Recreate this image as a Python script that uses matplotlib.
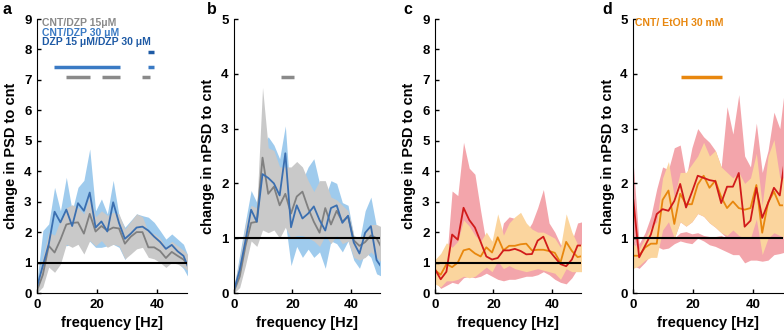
import numpy as np
import matplotlib
matplotlib.use("Agg")
import matplotlib.pyplot as plt

plt.rcParams['font.family'] = ['Liberation Sans', 'DejaVu Sans']
plt.rcParams['font.weight'] = 'bold'

# ------------------- data -------------------
freq = [0, 1.95, 3.91, 5.86, 7.81, 9.77, 11.72, 13.67, 15.63, 17.58, 19.53, 21.48, 23.44,
        25.39, 27.34, 29.3, 31.25, 33.2, 35.16, 37.11, 39.06, 41.02, 42.97, 44.92, 46.88,
        48.83, 50.78]

# panel a: change in PSD (DZP)
a_gray = [0.08, 0.6, 1.55, 1.33, 1.75, 2.25, 2.3, 2.32, 1.95, 2.6, 2.02, 2.2, 2.05, 2.15,
          2.12, 1.62, 1.85, 2.0, 2.0, 1.5, 1.5, 1.38, 1.15, 1.35, 1.22, 1.1, 0.85]
a_gray_lo = [0.0, 0.2, 0.85, 0.68, 0.95, 1.6, 1.5, 1.6, 1.28, 1.72, 1.55, 1.72, 1.5, 1.6,
             1.55, 1.12, 1.28, 1.45, 1.5, 1.17, 1.12, 1.0, 0.84, 1.0, 0.95, 0.84, 0.7]
a_gray_hi = [0.3, 1.2, 2.0, 1.9, 2.4, 2.8, 2.9, 2.8, 2.6, 3.2, 2.5, 2.7, 2.55, 2.65,
             2.6, 2.1, 2.35, 2.6, 2.5, 2.0, 1.95, 1.8, 1.5, 1.7, 1.55, 1.4, 1.2]
a_blue = [0.2, 0.9, 1.6, 2.67, 2.32, 2.74, 2.2, 2.95, 2.7, 3.3, 2.15, 2.35, 2.02, 2.98,
          2.3, 1.78, 1.95, 2.15, 2.18, 2.05, 1.85, 1.68, 1.45, 1.58, 1.37, 1.22, 0.75]
a_blue_lo = [0.0, 0.7, 1.2, 1.8, 1.7, 1.55, 1.6, 1.7, 1.65, 1.7, 1.5, 1.5, 1.55, 1.6,
             1.5, 1.1, 1.4, 1.6, 1.7, 1.6, 1.45, 1.3, 1.1, 1.15, 1.0, 0.8, 0.45]
a_blue_hi = [0.4, 2.05, 2.27, 3.47, 2.7, 3.8, 2.7, 3.47, 3.7, 4.73, 2.7, 3.09, 2.6, 3.7,
             2.54, 2.16, 2.38, 2.6, 2.54, 2.49, 2.32, 2.05, 1.77, 1.94, 1.77, 1.6, 1.1]

# panel b: change in nPSD (DZP)
b_gray = [0.03, 0.3, 0.85, 1.28, 1.3, 2.47, 1.81, 1.94, 1.6, 1.81, 1.45, 1.76, 1.85, 1.55,
          1.3, 1.1, 1.55, 1.25, 1.5, 1.3, 1.4, 0.96, 0.86, 0.93, 1.05, 1.0, 0.8]
b_gray_lo = [0.0, 0.1, 0.5, 0.95, 0.85, 1.15, 1.1, 1.15, 1.0, 1.2, 1.0, 1.05, 1.05, 1.0,
             0.95, 0.85, 1.05, 0.9, 1.05, 0.9, 0.95, 0.65, 0.6, 0.65, 0.75, 0.65, 0.55]
b_gray_hi = [0.15, 0.6, 1.25, 1.6, 1.55, 3.75, 2.65, 2.6, 2.3, 2.3, 2.3, 2.4, 2.3, 2.05,
             1.85, 2.05, 2.05, 1.75, 1.7, 1.6, 1.5, 1.05, 1.0, 1.1, 1.25, 1.25, 1.2]
b_blue = [0.05, 0.42, 0.95, 1.52, 1.3, 2.17, 2.1, 2.0, 1.78, 2.55, 1.2, 1.6, 1.36, 1.45,
          1.58, 1.33, 1.14, 1.55, 1.6, 1.28, 1.41, 0.92, 0.72, 1.1, 1.22, 0.6, 0.45]
b_blue_lo = [0.0, 0.18, 0.6, 1.15, 0.95, 1.2, 1.35, 1.2, 1.15, 1.3, 0.5, 0.85, 0.65, 0.8,
             0.65, 0.75, 0.45, 0.95, 0.9, 0.75, 0.95, 0.6, 0.45, 0.75, 0.65, 0.35, 0.3]
b_blue_hi = [0.1, 0.7, 1.3, 1.87, 1.65, 2.7, 2.85, 2.7, 2.45, 3.05, 1.6, 2.35, 2.05, 2.3,
             2.45, 2.0, 1.75, 2.05, 2.0, 1.65, 1.6, 1.05, 0.95, 1.5, 1.75, 1.2, 0.9]

# panel c: change in PSD (EtOH)
c_red = [0.78, 0.45, 0.7, 1.92, 1.75, 2.8, 2.4, 2.15, 1.68, 1.2, 1.1, 1.15, 1.4, 1.4,
         1.45, 1.38, 1.27, 1.28, 1.72, 1.85, 1.4, 1.17, 0.95, 0.88, 1.1, 1.56, 1.56]
c_red_lo = [0.4, 0.15, 0.25, 0.35, 0.3, 0.5, 0.55, 0.5, 0.55, 0.65, 0.55, 0.45, 0.4, 0.45,
            0.45, 0.5, 0.55, 0.55, 0.6, 0.7, 0.6, 0.45, 0.35, 0.3, 0.5, 0.8, 0.9]
c_red_hi = [1.0, 0.7, 1.0, 3.35, 3.2, 4.95, 4.1, 3.9, 2.7, 1.6, 1.3, 1.4, 2.3, 2.5,
            2.45, 2.1, 2.0, 2.3, 2.8, 3.4, 2.3, 2.0, 1.6, 1.5, 1.7, 2.3, 2.35]
c_orange = [0.75, 0.6, 0.95, 0.85, 1.0, 1.4, 1.45, 1.3, 1.2, 1.5, 1.33, 1.83, 1.4, 1.55,
            1.55, 1.6, 1.62, 1.4, 1.42, 1.42, 1.38, 1.32, 1.0, 1.68, 1.38, 1.18, 1.22]
c_orange_lo = [0.3, 0.2, 0.4, 0.4, 0.45, 0.55, 0.5, 0.55, 0.7, 0.85, 0.7, 1.05, 0.8, 0.9,
               0.8, 0.75, 0.7, 0.75, 0.8, 0.75, 0.7, 0.65, 0.45, 0.8, 0.7, 0.7, 0.7]
c_orange_hi = [1.1, 1.3, 1.65, 1.5, 1.7, 2.4, 2.2, 1.9, 1.7, 2.0, 1.7, 2.6, 1.9, 2.3,
               2.5, 2.65, 2.3, 2.1, 2.0, 2.0, 1.9, 1.8, 1.5, 2.6, 2.0, 1.6, 1.6]

# panel d: change in nPSD (EtOH)
d_red = [1.7, 0.65, 0.86, 1.07, 1.44, 1.53, 1.5, 1.68, 1.99, 1.56, 1.84, 2.14, 2.1, 2.06,
         2.04, 1.64, 1.94, 1.94, 2.19, 1.21, 1.32, 1.92, 1.37, 1.64, 1.92, 1.78, 2.55]
d_red_lo = [0.5, 0.45, 0.56, 0.7, 0.85, 0.8, 0.82, 0.9, 0.95, 0.92, 0.9, 1.0, 0.95, 0.88,
            0.85, 0.8, 0.75, 0.7, 0.7, 0.55, 0.6, 0.6, 0.58, 0.6, 0.7, 0.72, 0.75]
d_red_hi = [2.35, 0.9, 1.1, 1.4, 1.9, 2.3, 2.25, 2.65, 2.7, 2.1, 2.65, 3.0, 2.85, 2.75,
            2.6, 2.3, 3.4, 2.9, 3.62, 2.5, 2.3, 3.1, 2.2, 2.6, 3.3, 3.0, 3.9]
# unfilled part inside the red band (white gap seen in the figure)
d_gap_lo = [1.0, 0.7, 0.8, 1.0, 1.0, 1.0, 1.0, 1.0, 1.1, 1.12, 1.08, 1.1, 1.05, 1.03,
            1.03, 1.05, 1.0, 1.0, 1.0, 1.0, 1.0, 1.0, 1.0, 1.0, 1.0, 1.0, 1.0]
d_gap_hi = [1.0, 0.7, 0.8, 1.0, 1.0, 1.0, 1.0, 1.0, 1.3, 1.22, 1.3, 1.45, 1.4, 1.28,
            1.2, 1.1, 1.0, 1.0, 1.0, 1.0, 1.0, 1.0, 1.0, 1.0, 1.0, 1.0, 1.0]
d_orange = [0.68, 0.68, 0.83, 0.9, 0.9, 1.7, 1.87, 1.26, 1.81, 1.62, 1.62, 1.98, 2.14, 1.92,
            2.05, 1.75, 1.55, 1.67, 1.55, 1.52, 1.55, 1.97, 1.1, 1.65, 1.85, 1.6, 1.6]
d_orange_lo = [0.45, 0.5, 0.6, 0.65, 0.65, 1.15, 1.3, 1.0, 1.3, 1.22, 1.3, 1.45, 1.4, 1.28,
               1.2, 1.1, 1.05, 1.15, 1.05, 1.0, 1.0, 1.35, 0.7, 1.0, 1.1, 1.05, 1.0]
d_orange_hi = [0.9, 0.8, 1.0, 1.2, 1.3, 2.1, 2.4, 1.75, 2.2, 2.2, 2.35, 2.5, 2.75, 2.5,
               2.6, 2.3, 2.2, 2.1, 2.2, 2.0, 2.1, 2.55, 1.6, 2.5, 2.8, 2.1, 2.1]

# significance bars: (y, [(f_start, f_end), ...])
a_sig_gray = (7.1, [(9.7, 17.7), (21.6, 27.7), (34.9, 37.7)])
a_sig_blue = (7.43, [(5.7, 27.7), (36.9, 39.1)])
a_sig_dark = (7.92, [(36.9, 39.1)])
b_sig_gray = (3.95, [(16.1, 20.6)])
d_sig_orange = (3.95, [(15.8, 29.5)])

a_legend = ['CNT/DZP 15μM', 'CNT/DZP 30 μM', 'DZP 15 μM/DZP 30 μM']
d_legend = 'CNT/ EtOH 30 mM'

# ------------------- colours --------------------------
GRAY_BAND, GRAY_LINE, GRAY_SIG = '#c9c9c9', '#808080', '#8a8a8a'
BLUE_BAND, BLUE_LINE, BLUE_SIG, DARK_SIG = '#9fcbed', '#3b6fb0', '#3a7ac4', '#1e5aa5'
RED_BAND, RED_LINE = '#f3a5ab', '#d11a1a'
ORANGE_BAND, ORANGE_LINE = '#fbd59e', '#e8870e'


def style_axis(ax, ymax, ylabel, letter, letter_x):
    ax.set_xlim(0, 50)
    ax.set_ylim(0, ymax)
    ax.set_xticks([0, 20, 40])
    ax.set_yticks(range(0, ymax + 1))
    ax.spines['top'].set_visible(False)
    ax.spines['right'].set_visible(False)
    ax.tick_params(direction='in', length=3, width=1, labelsize=9.5, pad=4)
    for lab in ax.get_xticklabels() + ax.get_yticklabels():
        lab.set_fontweight('bold')
    ax.set_xlabel('frequency [Hz]', fontsize=10.5, fontweight='bold', labelpad=4)
    ax.set_ylabel(ylabel, fontsize=10.5, fontweight='bold', labelpad=4)
    ax.axhline(1, color='black', lw=1.5, zorder=10)
    ax.text(letter_x, 1.033, letter, transform=ax.transAxes, fontsize=11.5,
            fontweight='bold', va='center', ha='left')


def sig_bars(ax, sig, color):
    y, spans = sig
    for f0, f1 in spans:
        ax.plot([f0, f1], [y, y], color=color, lw=2.5, solid_capstyle='butt')


fig = plt.figure(figsize=(7.84, 3.36), dpi=100)
bottom, height = 1 - 293 / 336, 274 / 336
ax_a = fig.add_axes([37 / 784, bottom, 150 / 784, height])
ax_b = fig.add_axes([234 / 784, bottom, 146 / 784, height])
ax_c = fig.add_axes([435 / 784, bottom, 146 / 784, height])
ax_d = fig.add_axes([633.3 / 784, bottom, 150 / 784, height])

# -------------------panel a--------------------------
ax_a.fill_between(freq, a_blue_lo, a_blue_hi, color=BLUE_BAND, lw=0)
ax_a.fill_between(freq, a_gray_lo, a_gray_hi, color=GRAY_BAND, lw=0)
ax_a.plot(freq, a_gray, color=GRAY_LINE, lw=1.3)
ax_a.plot(freq, a_blue, color=BLUE_LINE, lw=1.3)
sig_bars(ax_a, a_sig_gray, GRAY_SIG)
sig_bars(ax_a, a_sig_blue, BLUE_SIG)
sig_bars(ax_a, a_sig_dark, DARK_SIG)
for i, (txt, col) in enumerate(zip(a_legend, [GRAY_SIG, BLUE_SIG, DARK_SIG])):
    ax_a.text(1.6, 8.87 - 0.32 * i, txt, color=col, fontsize=7.5, fontweight='bold',
              va='center')
style_axis(ax_a, 9, 'change in PSD to cnt', 'a', -0.227)

# -------------------panel b--------------------------
ax_b.fill_between(freq, b_blue_lo, b_blue_hi, color=BLUE_BAND, lw=0)
ax_b.fill_between(freq, b_gray_lo, b_gray_hi, color=GRAY_BAND, lw=0)
ax_b.plot(freq, b_gray, color=GRAY_LINE, lw=1.3)
ax_b.plot(freq, b_blue, color=BLUE_LINE, lw=1.3)
sig_bars(ax_b, b_sig_gray, GRAY_SIG)
style_axis(ax_b, 5, 'change in nPSD to cnt', 'b', -0.185)

# -------------------panel c--------------------------
ax_c.fill_between(freq, c_red_lo, c_red_hi, color=RED_BAND, lw=0)
ax_c.fill_between(freq, c_orange_lo, c_orange_hi, color=ORANGE_BAND, lw=0)
ax_c.plot(freq, c_orange, color=ORANGE_LINE, lw=1.3)
ax_c.plot(freq, c_red, color=RED_LINE, lw=1.3)
style_axis(ax_c, 9, 'change in PSD to cnt', 'c', -0.219)

# -------------------panel d--------------------------
ax_d.fill_between(freq, d_red_lo, d_gap_lo, color=RED_BAND, lw=0)
ax_d.fill_between(freq, d_gap_hi, d_red_hi, color=RED_BAND, lw=0)
ax_d.fill_between(freq, d_orange_lo, d_orange_hi, color=ORANGE_BAND, lw=0)
ax_d.plot(freq, d_orange, color=ORANGE_LINE, lw=1.3)
ax_d.plot(freq, d_red, color=RED_LINE, lw=1.3)
sig_bars(ax_d, d_sig_orange, ORANGE_LINE)
ax_d.text(0.5, 4.92, d_legend, color=ORANGE_LINE, fontsize=7.5, fontweight='bold',
          va='center')
style_axis(ax_d, 5, 'change in nPSD to cnt', 'd', -0.207)

fig.savefig('out.png', dpi=100)
